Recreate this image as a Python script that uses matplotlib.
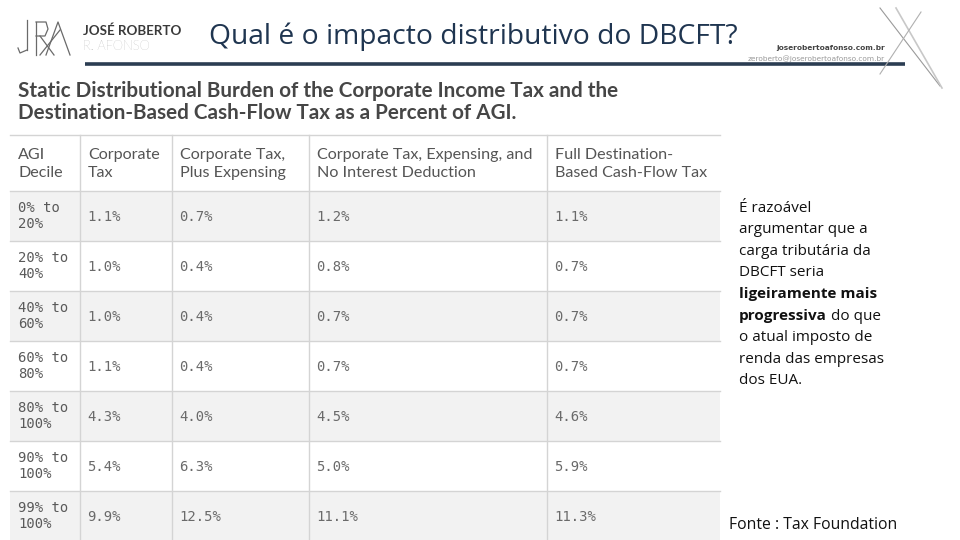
import matplotlib.pyplot as plt
from matplotlib.patches import Rectangle

# table data
headers = ["AGI\nDecile", "Corporate\nTax", "Corporate Tax,\nPlus Expensing",
           "Corporate Tax, Expensing, and\nNo Interest Deduction",
           "Full Destination-\nBased Cash-Flow Tax"]
deciles = ["0% to\n20%", "20% to\n40%", "40% to\n60%", "60% to\n80%",
           "80% to\n100%", "90% to\n100%", "99% to\n100%"]
corporate_tax = [1.1, 1.0, 1.0, 1.1, 4.3, 5.4, 9.9]
plus_expensing = [0.7, 0.4, 0.4, 0.4, 4.0, 6.3, 12.5]
no_interest = [1.2, 0.8, 0.7, 0.7, 4.5, 5.0, 11.1]
full_dbcft = [1.1, 0.7, 0.7, 0.7, 4.6, 5.9, 11.3]

slide_title = "Qual é o impacto distributivo do DBCFT?"
table_title = ("Static Distributional Burden of the Corporate Income Tax and the\n"
               "Destination-Based Cash-Flow Tax as a Percent of AGI.")
comment = ["É razoável", "argumentar que a", "carga tributária da", "DBCFT seria",
           "ligeiramente mais", "progressiva", "o atual imposto de",
           "renda das empresas", "dos EUA."]
source = "Fonte : Tax Foundation"

fig = plt.figure(figsize=(9.6, 5.4), dpi=100)
ax = fig.add_axes([0, 0, 1, 1])
ax.set_xlim(0, 960)
ax.set_ylim(540, 0)
ax.axis("off")

# header of the slide
ax.text(209, 37, slide_title, fontsize=20.3, color="#1f3550", va="center",
        family="Open Sans")
ax.plot([85, 905], [64, 64], color="#2b3d52", lw=2.6, solid_capstyle="butt")

# logo monogram
logo = "#6a6a6a"
ax.plot([27, 27], [20, 50], color=logo, lw=0.9)
ax.plot([27, 20, 18], [50, 53, 48], color=logo, lw=0.9)
ax.plot([36, 36], [22, 55], color=logo, lw=0.9)
ax.plot([36, 46, 48, 45, 36], [22, 22, 29, 36, 36], color=logo, lw=0.9)
ax.plot([40, 54], [36, 55], color=logo, lw=0.9)
ax.plot([46, 58, 70], [55, 22, 55], color=logo, lw=0.9)
ax.plot([40, 60], [55, 30], color=logo, lw=0.9)
ax.text(83, 31, "JOSÉ ROBERTO", fontsize=9.6, fontweight="bold", color="#3a3a3a",
        va="center", family="Lato")
ax.text(83, 46, "R. AFONSO", fontsize=9.4, color="#8a8a8a", va="center",
        family="Lato", fontweight="light")

# top-right contact and lines
ax.text(885, 48, "joserobertoafonso.com.br", fontsize=5.3, fontweight="bold",
        color="#444444", ha="right", va="center", family="DejaVu Sans")
ax.text(885, 59, "zeroberto@joserobertoafonso.com.br", fontsize=5.3,
        color="#999999", ha="right", va="center", family="DejaVu Sans")
ax.plot([880, 940], [8, 86], color="#9a9a9a", lw=0.8)
ax.plot([896, 942], [8, 88], color="#c8c8c8", lw=1.2)
ax.plot([921, 880], [12, 74], color="#b0b0b0", lw=0.8)

# table title
ax.text(18, 102, table_title, fontsize=14.9, fontweight="bold", color="#464646",
        va="center", family="Lato", linespacing=1.15)

# table body
col_x = [10, 80, 172, 309, 547, 720]
top, header_h, row_h = 135, 56, 50
columns = [corporate_tax, plus_expensing, no_interest, full_dbcft]
n_rows = len(deciles)

for i in range(n_rows):
    y0 = top + header_h + i * row_h
    if i % 2 == 0:
        ax.add_patch(Rectangle((col_x[0], y0), col_x[-1] - col_x[0], row_h,
                               facecolor="#f2f2f2", edgecolor="none", zorder=0))
    ax.text(col_x[0] + 8, y0 + row_h / 2, deciles[i], fontsize=10,
            family="DejaVu Sans Mono", color="#5a5a5a", va="center",
            linespacing=1.15)
    for j, col in enumerate(columns):
        ax.text(col_x[j + 1] + 7, y0 + row_h / 2 + 1, f"{col[i]:.1f}%",
                fontsize=10, family="DejaVu Sans Mono", color="#6a6a6a",
                va="center")

for j, h in enumerate(headers):
    ax.text(col_x[j] + 8, top + header_h / 2 + 1, h, fontsize=11.6, family="Lato",
            color="#555555", va="center", linespacing=1.35)

grid = "#d4d4d4"
for i in range(n_rows + 1):
    y = top + header_h + i * row_h
    ax.plot([col_x[0], col_x[-1]], [y, y], color=grid, lw=1)
ax.plot([col_x[0], col_x[-1]], [top, top], color=grid, lw=1)
for x in col_x[1:-1]:
    ax.plot([x, x], [top, 540], color=grid, lw=1)

# commentary on the right
for k, line in enumerate(comment):
    y = 208 + k * 21.6
    bold = k in (4, 5)
    t = ax.text(739, y, line, fontsize=11, color="#111111", va="center",
                family="Open Sans", fontweight="bold" if bold else "normal")
    if k == 5:
        ax.annotate(" do que", xy=(1, 0.5), xycoords=t, fontsize=11,
                    color="#111111", va="center", family="Open Sans")

ax.text(729, 525, source, fontsize=11.3, color="#111111", va="center",
        family="Open Sans")

fig.savefig("out.png", dpi=100, facecolor="white")
